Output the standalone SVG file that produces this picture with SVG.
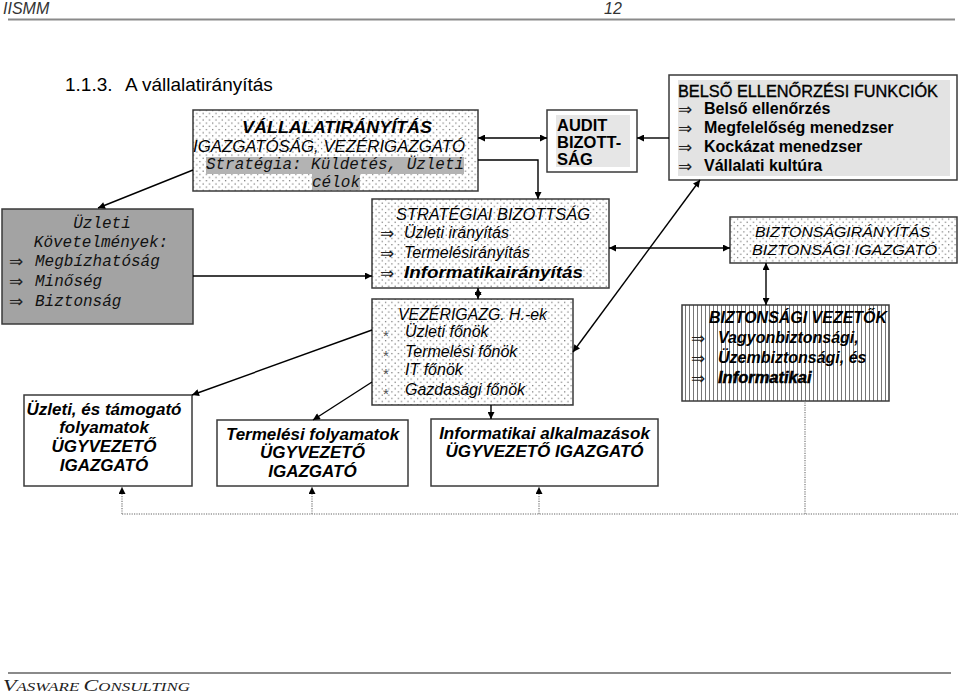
<svg xmlns="http://www.w3.org/2000/svg" width="959" height="694" viewBox="0 0 959 694">
<style>
.t{font-family:"Liberation Sans",Arial,sans-serif;fill:#000}
.n{font-family:"Liberation Sans Narrow","Liberation Sans",Arial,sans-serif;font-style:italic;fill:#333}
.m{font-family:"Liberation Mono","Courier New",monospace;font-style:italic;font-size:16px;fill:#111}
.i{font-style:italic}
.b{font-weight:bold}
.ar{font-family:"DejaVu Sans",sans-serif;font-size:17px;fill:#222}
.st{font-family:"Liberation Sans",Arial,sans-serif;font-size:15px;fill:#555}
.box{stroke:#3a3a3a;stroke-width:1.5}
.c{stroke:#000;stroke-width:1.4;fill:none}
.d{stroke:#999;stroke-width:1.6;stroke-dasharray:1.2 1.2;fill:none}
</style>
<defs>
<pattern id="dots" width="6.4" height="6.4" patternUnits="userSpaceOnUse">
<rect width="6.4" height="6.4" fill="#fff"/>
<rect x="1" y="1" width="1.1" height="1.1" fill="#555"/>
<rect x="4.2" y="4.2" width="1.1" height="1.1" fill="#555"/>
</pattern>
<pattern id="vh" width="4" height="4" patternUnits="userSpaceOnUse">
<rect width="4" height="4" fill="#fff"/>
<rect x="1" width="1" height="4" fill="#777"/>
</pattern>
<marker id="ah" viewBox="0 0 10 10" refX="10" refY="5" markerWidth="9" markerHeight="7" markerUnits="userSpaceOnUse" orient="auto-start-reverse">
<path d="M0,0 L10,5 L0,10 z" fill="#000"/>
</marker>
</defs>

<!-- header -->
<text class="n" x="3" y="14" font-size="16">IISMM</text>
<text class="n" x="604" y="14" font-size="16">12</text>
<line x1="8" y1="19.5" x2="955" y2="19.5" stroke="#8a8a8a" stroke-width="2"/>
<text class="t" x="65" y="91" font-size="19">1.1.3.<tspan x="125">A vállalatirányítás</tspan></text>

<!-- nodes -->
<g id="vallalatiranyitas">
<rect class="box" x="193" y="110" width="285" height="81" fill="url(#dots)"/>
<rect x="206" y="157" width="258" height="17" fill="#b3b3b3"/>
<rect x="312" y="174" width="48" height="16" fill="#b3b3b3"/>
<text class="t i b" x="242" y="133" font-size="17" textLength="190" lengthAdjust="spacingAndGlyphs">VÁLLALATIRÁNYÍTÁS</text>
<text class="t i" x="193" y="152" font-size="16.5" textLength="272" lengthAdjust="spacingAndGlyphs">IGAZGATÓSÁG, VEZÉRIGAZGATÓ</text>
<text class="m" x="206" y="169" font-size="15.5" textLength="258" lengthAdjust="spacingAndGlyphs">Stratégia: Küldetés, Üzleti</text>
<text class="m" x="336" y="187" font-size="15.5" text-anchor="middle">célok</text>
</g>

<g id="audit">
<rect class="box" x="547" y="110" width="90" height="62" fill="#fff"/>
<rect x="556" y="115" width="74" height="52" fill="#e6e6e6"/>
<text class="t b" x="557" y="131" font-size="16.5">AUDIT</text>
<text class="t b" x="557" y="148" font-size="16.5">BIZOTT-</text>
<text class="t b" x="557" y="165" font-size="16.5">SÁG</text>
</g>

<g id="belso">
<rect class="box" x="669" y="75" width="288" height="105" fill="#fff"/>
<rect x="678" y="80" width="272" height="96" fill="#e3e3e3"/>
<text class="t" x="678" y="97" font-size="16.3" stroke="#000" stroke-width="0.35" textLength="260" lengthAdjust="spacingAndGlyphs">BELSŐ ELLENŐRZÉSI FUNKCIÓK</text>
<text class="ar" x="678" y="115">⇒</text><text class="t b" x="704" y="114" font-size="16">Belső ellenőrzés</text>
<text class="ar" x="678" y="134">⇒</text><text class="t b" x="704" y="133" font-size="16">Megfelelőség menedzser</text>
<text class="ar" x="678" y="153">⇒</text><text class="t b" x="704" y="152" font-size="16">Kockázat menedzser</text>
<text class="ar" x="678" y="172">⇒</text><text class="t b" x="704" y="171" font-size="16">Vállalati kultúra</text>
</g>

<g id="uzleti-kovetelmenyek">
<rect class="box" x="2" y="209" width="191" height="115" fill="#a3a3a3"/>
<text class="m" x="102" y="228" text-anchor="middle">Üzleti</text>
<text class="m" x="101" y="247" text-anchor="middle">Követelmények:</text>
<text class="ar" x="9" y="267">⇒</text><text class="m" x="35" y="266">Megbízhatóság</text>
<text class="ar" x="9" y="287">⇒</text><text class="m" x="35" y="286">Minőség</text>
<text class="ar" x="9" y="307">⇒</text><text class="m" x="35" y="306">Biztonság</text>
</g>

<g id="strategiai">
<rect class="box" x="372" y="199" width="237" height="89" fill="url(#dots)"/>
<text class="t i" x="396" y="220" font-size="16.3" textLength="194" lengthAdjust="spacingAndGlyphs">STRATÉGIAI BIZOTTSÁG</text>
<text class="ar" x="380" y="239">⇒</text><text class="t i" x="404" y="238" font-size="16">Üzleti irányítás</text>
<text class="ar" x="380" y="259">⇒</text><text class="t i" x="404" y="258" font-size="16">Termelésirányítás</text>
<text class="ar" x="380" y="279">⇒</text><text class="t i b" x="404" y="278" font-size="16" textLength="179" lengthAdjust="spacingAndGlyphs">Informatikairányítás</text>
</g>

<g id="vezerigazg">
<rect class="box" x="372" y="299" width="201" height="106" fill="url(#dots)"/>
<text class="t i" x="398" y="320" font-size="16.3" textLength="149" lengthAdjust="spacingAndGlyphs">VEZÉRIGAZG. H.-ek</text>
<text class="st" x="383" y="341">*</text><text class="t i" x="405" y="337" font-size="16">Üzleti főnök</text>
<text class="st" x="383" y="361">*</text><text class="t i" x="405" y="357" font-size="16">Termelési főnök</text>
<text class="st" x="383" y="379">*</text><text class="t i" x="405" y="375" font-size="16">IT főnök</text>
<text class="st" x="383" y="399">*</text><text class="t i" x="405" y="395" font-size="16">Gazdasági főnök</text>
</g>

<g id="biztonsagiranyitas">
<rect class="box" x="730" y="217" width="227" height="46" fill="url(#dots)"/>
<text class="t i" x="755" y="237" font-size="15.5" textLength="175" lengthAdjust="spacingAndGlyphs">BIZTONSÁGIRÁNYÍTÁS</text>
<text class="t i" x="752" y="255" font-size="15.5" textLength="185" lengthAdjust="spacingAndGlyphs">BIZTONSÁGI IGAZGATÓ</text>
</g>

<g id="biztonsagi-vezetok">
<rect class="box" x="682" y="305" width="207" height="96" fill="url(#vh)"/>
<text class="t i b" x="709" y="323" font-size="16" textLength="178" lengthAdjust="spacingAndGlyphs">BIZTONSÁGI VEZETŐK</text>
<text class="ar" x="691" y="344">⇒</text><text class="t i b" x="718" y="343" font-size="16">Vagyonbiztonsági,</text>
<text class="ar" x="691" y="364">⇒</text><text class="t i b" x="718" y="363" font-size="16">Üzembiztonsági, és</text>
<text class="ar" x="691" y="384">⇒</text><text class="t i b" x="718" y="383" font-size="16.5" stroke="#000" stroke-width="0.5">Informatikai</text>
</g>

<g id="uzleti-tamogato">
<rect class="box" x="24" y="395" width="168" height="91" fill="#fff"/>
<text class="t i b" x="104" y="415" font-size="17" text-anchor="middle">Üzleti, és támogató</text>
<text class="t i b" x="104" y="433" font-size="17" text-anchor="middle">folyamatok</text>
<text class="t i b" x="104" y="452" font-size="17" text-anchor="middle">ÜGYVEZETŐ</text>
<text class="t i b" x="104" y="471" font-size="17" text-anchor="middle">IGAZGATÓ</text>
</g>

<g id="termelesi">
<rect class="box" x="217" y="420" width="191" height="66" fill="#fff"/>
<text class="t i b" x="312.5" y="440" font-size="17" text-anchor="middle">Termelési folyamatok</text>
<text class="t i b" x="312.5" y="458" font-size="17" text-anchor="middle">ÜGYVEZETŐ</text>
<text class="t i b" x="312.5" y="477" font-size="17" text-anchor="middle">IGAZGATÓ</text>
</g>

<g id="informatikai">
<rect class="box" x="431" y="419" width="227" height="67" fill="#fff"/>
<text class="t i b" x="544.5" y="439" font-size="17" text-anchor="middle">Informatikai alkalmazások</text>
<text class="t i b" x="544.5" y="457" font-size="17" text-anchor="middle">ÜGYVEZETŐ IGAZGATÓ</text>
</g>

<!-- connectors -->
<g id="connectors">
<path class="c" d="M478,138 H547" marker-start="url(#ah)" marker-end="url(#ah)"/>
<path class="c" d="M669,138 H637" marker-end="url(#ah)"/>
<path class="c" d="M478,160 H538 V199" marker-end="url(#ah)"/>
<path class="c" d="M193,170 L98,208" marker-end="url(#ah)"/>
<path class="c" d="M193,276 H372" marker-end="url(#ah)"/>
<path class="c" d="M609,248 H730" marker-start="url(#ah)" marker-end="url(#ah)"/>
<path class="c" d="M700,180 L573,352" marker-start="url(#ah)" marker-end="url(#ah)"/>
<path class="c" d="M478,288 V299" marker-start="url(#ah)" marker-end="url(#ah)"/>
<path class="c" d="M372,330 L192,395" marker-end="url(#ah)"/>
<path class="c" d="M372,382 L313,420" marker-end="url(#ah)"/>
<path class="c" d="M491,405 V419" marker-end="url(#ah)"/>
<path class="c" d="M766,263 V305" marker-start="url(#ah)" marker-end="url(#ah)"/>
<path class="d" d="M122,514 H958"/>
<path class="d" d="M122,514 V487" marker-end="url(#ah)"/>
<path class="d" d="M312,514 V487" marker-end="url(#ah)"/>
<path class="d" d="M539,514 V487" marker-end="url(#ah)"/>
<path class="d" d="M805,514 V401"/>
</g>

<!-- footer -->
<line x1="8" y1="673" x2="951" y2="673" stroke="#8a8a8a" stroke-width="2"/>
<text x="3" y="691" font-family="Liberation Serif,serif" font-style="italic" fill="#222" textLength="187" lengthAdjust="spacingAndGlyphs"><tspan font-size="17">V</tspan><tspan font-size="13">ASWARE </tspan><tspan font-size="17">C</tspan><tspan font-size="13">ONSULTING</tspan></text>
</svg>
